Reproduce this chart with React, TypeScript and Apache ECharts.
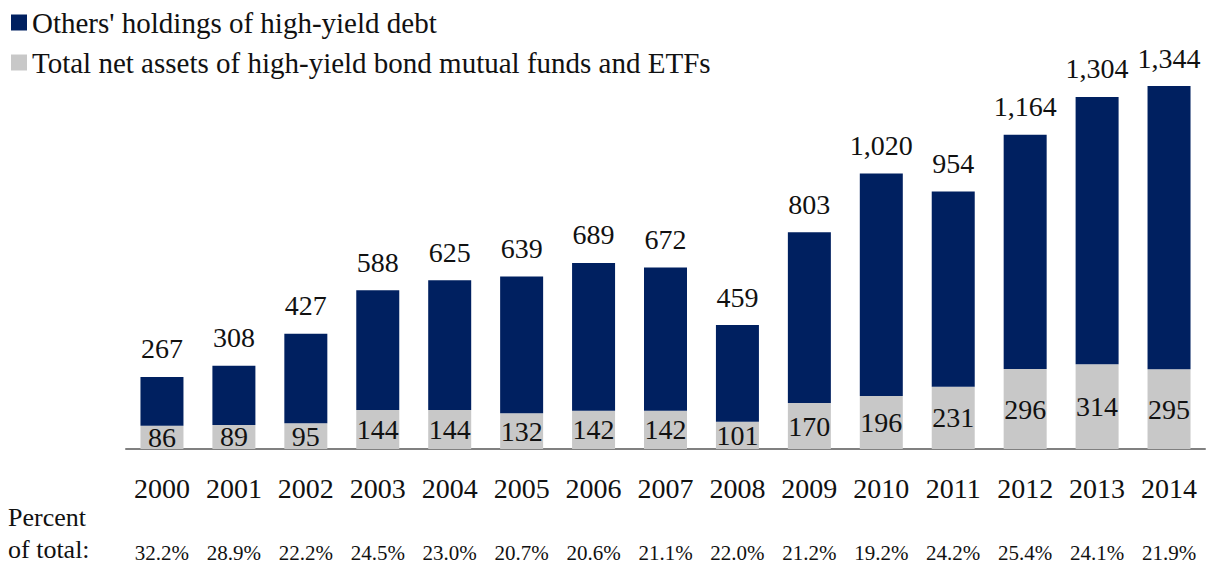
import React, { useEffect, useRef } from "react";
import * as echarts from "echarts";

const years = ["2000","2001","2002","2003","2004","2005","2006","2007","2008","2009","2010","2011","2012","2013","2014"];
const fundAssets = [86, 89, 95, 144, 144, 132, 142, 142, 101, 170, 196, 231, 296, 314, 295];
const totals = [267, 308, 427, 588, 625, 639, 689, 672, 459, 803, 1020, 954, 1164, 1304, 1344];
const percents = ["32.2%","28.9%","22.2%","24.5%","23.0%","20.7%","20.6%","21.1%","22.0%","21.2%","19.2%","24.2%","25.4%","24.1%","21.9%"];
const others = totals.map((t, i) => t - fundAssets[i]);
const legendNames = ["Others' holdings of high-yield debt", "Total net assets of high-yield bond mutual funds and ETFs"];

const FONT = "Liberation Serif";

function buildOption() {
  return {
    animation: false,
    textStyle: { fontFamily: FONT, color: "#111" },
    legend: {
      orient: "vertical",
      left: 6,
      top: 3,
      itemWidth: 16,
      itemHeight: 16,
      itemGap: 11,
      icon: "rect",
      textStyle: { fontFamily: FONT, fontSize: 29, color: "#111" },
      data: legendNames,
    },
    grid: { left: 126, right: 14, top: 71, height: 378 },
    xAxis: [
      {
        type: "category",
        data: years,
        axisLine: { lineStyle: { color: "#808080", width: 2 } },
        axisTick: { show: false },
        axisLabel: { interval: 0, margin: 25, fontFamily: FONT, fontSize: 28, color: "#111" },
      },
      {
        type: "category",
        data: percents,
        position: "bottom",
        axisLine: { show: false },
        axisTick: { show: false },
        axisLabel: { interval: 0, margin: 93, fontFamily: FONT, fontSize: 21, color: "#111" },
      },
    ],
    yAxis: { type: "value", min: 0, max: 1400, show: false, splitLine: { show: false } },
    series: [
      {
        name: legendNames[1],
        type: "bar",
        stack: "a",
        barWidth: 43,
        data: fundAssets,
        itemStyle: { color: "#C8C8C8" },
        label: { show: true, position: "inside", fontFamily: FONT, fontSize: 28, color: "#111" },
      },
      {
        name: legendNames[0],
        type: "bar",
        stack: "a",
        barWidth: 43,
        data: others,
        itemStyle: { color: "#002060" },
        label: {
          show: true,
          position: "top",
          distance: 14,
          fontFamily: FONT,
          fontSize: 28,
          color: "#111",
          formatter: (p: any) => totals[p.dataIndex].toLocaleString("en-US"),
        },
      },
    ],
  };
}

export default function App() {
  const ref = useRef<HTMLDivElement>(null);
  useEffect(() => {
    document.body.style.margin = "0";
    const chart = echarts.init(ref.current!, null, { renderer: "svg" });
    chart.setOption(buildOption());
    let alive = true;
    const fonts = (document as any).fonts;
    if (fonts && fonts.load) {
      fonts.load('28px "Liberation Serif"').then(() => {
        if (!alive) return;
        chart.clear();
        chart.setOption(buildOption());
      });
    }
    return () => {
      alive = false;
      chart.dispose();
    };
  }, []);
  return (
    <div style={{ position: "relative", width: 1219, height: 569, fontFamily: FONT }}>
      <div ref={ref} style={{ width: 1219, height: 569 }} />
      <div
        style={{
          position: "absolute",
          left: 8,
          top: 502,
          fontFamily: FONT,
          fontSize: 26,
          lineHeight: "32px",
          color: "#111",
          whiteSpace: "nowrap",
        }}
      >
        Percent
        <br />
        of total:
      </div>
    </div>
  );
}
